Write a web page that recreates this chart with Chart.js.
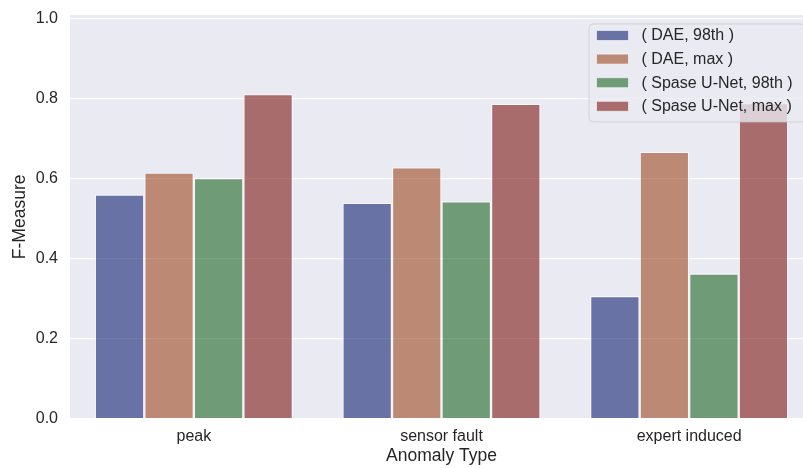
<!DOCTYPE html>
<html>
<head>
<meta charset="utf-8">
<script src="https://cdn.jsdelivr.net/npm/chart.js@4.4.1/dist/chart.umd.min.js"></script>
<style>
  html, body { margin: 0; padding: 0; background: #ffffff; overflow: hidden; }
  #wrap { width: 813px; height: 468px; }
</style>
</head>
<body>
<div id="wrap"><canvas id="c" width="813" height="468"></canvas></div>
<script>
// ---- data ----
const categories = ["peak", "sensor fault", "expert induced"];
const seriesNames = ["( DAE, 98th )", "( DAE, max )", "( Spase U-Net, 98th )", "( Spase U-Net, max )"];
const dae98 = [0.561, 0.540, 0.307];
const daeMax = [0.616, 0.629, 0.668];
const unet98 = [0.602, 0.544, 0.363];
const unetMax = [0.812, 0.788, 0.790];
const yTickValues = [0.0, 0.2, 0.4, 0.6, 0.8, 1.0];

// ---- styles ----
const colors = [
  "rgba(16,33,111,0.6)",
  "rgba(156,72,34,0.6)",
  "rgba(30,101,37,0.6)",
  "rgba(122,23,17,0.6)"
];
const FONT = "'Liberation Sans', Arial, sans-serif";
const TXT = "#262626";

const seriesValues = [dae98, daeMax, unet98, unetMax];

const bgPlugin = {
  id: "bg",
  beforeDraw(chart) {
    const { ctx, chartArea: a } = chart;
    ctx.save();
    ctx.fillStyle = "#ffffff";
    ctx.fillRect(0, 0, chart.width, chart.height);
    ctx.fillStyle = "#EAEAF2";
    ctx.fillRect(a.left, a.top, a.right - a.left, a.bottom - a.top);
    ctx.restore();
  }
};

const legendPlugin = {
  id: "innerLegend",
  afterDraw(chart) {
    const { ctx, chartArea: a } = chart;
    const right = a.right - 8;
    const left = right - 216;
    const top = a.top + 9;
    const rowH = 23.6;
    const h = rowH * seriesNames.length + 3.5;
    ctx.save();
    const r = 4;
    ctx.beginPath();
    ctx.moveTo(left + r, top);
    ctx.lineTo(right - r, top);
    ctx.quadraticCurveTo(right, top, right, top + r);
    ctx.lineTo(right, top + h - r);
    ctx.quadraticCurveTo(right, top + h, right - r, top + h);
    ctx.lineTo(left + r, top + h);
    ctx.quadraticCurveTo(left, top + h, left, top + h - r);
    ctx.lineTo(left, top + r);
    ctx.quadraticCurveTo(left, top, left + r, top);
    ctx.closePath();
    ctx.fillStyle = "rgba(234,234,242,0.8)";
    ctx.fill();
    ctx.strokeStyle = "rgba(204,204,204,0.8)";
    ctx.lineWidth = 1;
    ctx.stroke();
    ctx.font = "16px " + FONT;
    ctx.textBaseline = "middle";
    ctx.textAlign = "left";
    seriesNames.forEach((name, i) => {
      const cy = top + 11.5 + i * rowH;
      const px = left + 7.5;
      ctx.fillStyle = colors[i];
      ctx.fillRect(px, cy - 5, 32, 10);
      ctx.strokeStyle = "rgba(255,255,255,0.6)";
      ctx.lineWidth = 1;
      ctx.strokeRect(px, cy - 5, 32, 10);
      ctx.fillStyle = TXT;
      ctx.fillText(name, px + 45, cy + 0.5);
    });
    ctx.restore();
  }
};

new Chart(document.getElementById("c"), {
  type: "bar",
  data: {
    labels: categories,
    datasets: seriesNames.map((n, i) => ({
      label: n,
      data: seriesValues[i],
      backgroundColor: colors[i],
      borderColor: "rgba(255,255,255,0.6)",
      borderWidth: 1.2,
      categoryPercentage: 0.8,
      barPercentage: 1.0
    }))
  },
  options: {
    responsive: false,
    devicePixelRatio: 1,
    animation: false,
    layout: { padding: { top: 15, left: 0, right: 0, bottom: 0 } },
    plugins: {
      legend: { display: false },
      tooltip: { enabled: false },
      title: { display: false }
    },
    scales: {
      x: {
        grid: { display: false, drawTicks: false },
        border: { display: false },
        ticks: { color: TXT, font: { family: FONT, size: 16 }, padding: 8 },
        title: {
          display: true, text: "Anomaly Type", color: TXT,
          font: { family: FONT, size: 17.5 }, padding: { top: 0, bottom: 1 }
        },
        afterFit(scale) { scale.height = 49.3; scale.paddingLeft = 0; scale.paddingRight = 0; }
      },
      y: {
        min: 0,
        max: 1.01,
        grid: { color: "#ffffff", lineWidth: 1.3, drawTicks: false },
        border: { display: false },
        afterBuildTicks(scale) { scale.ticks = yTickValues.map(v => ({ value: v })); },
        ticks: {
          color: TXT, font: { family: FONT, size: 16 }, padding: 12,
          callback: (v) => Number(v).toFixed(1)
        },
        title: {
          display: true, text: "F-Measure", color: TXT,
          font: { family: FONT, size: 17.5 }, padding: { top: 10, bottom: 0 }
        },
        afterFit(scale) { scale.width = 70; scale.paddingTop = 0; scale.paddingBottom = 0; }
      }
    }
  },
  plugins: [bgPlugin, legendPlugin]
});
</script>
</body>
</html>
